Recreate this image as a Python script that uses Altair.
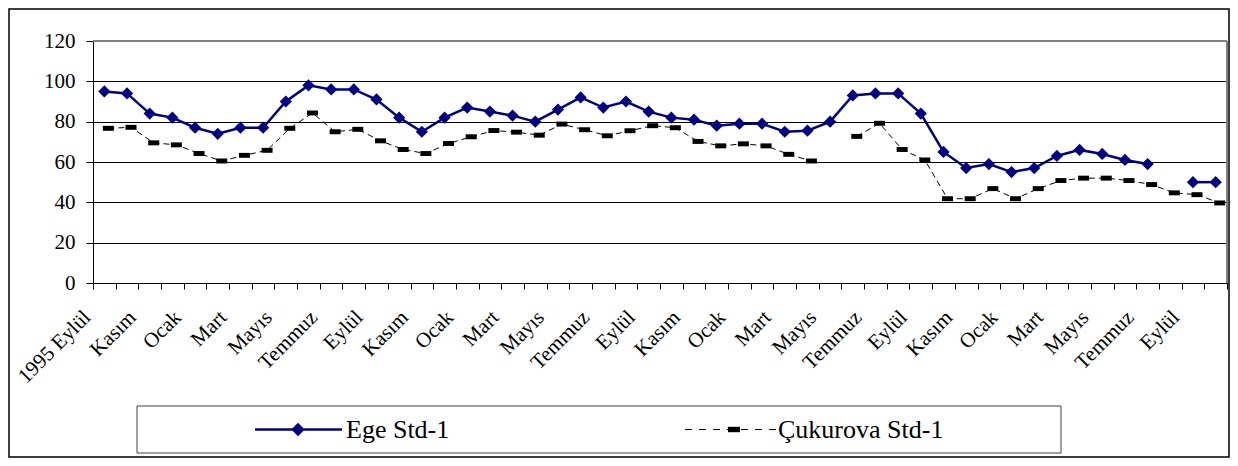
import json
import altair as alt
import pandas as pd

# ---------------- data ----------------
x_labels = ["1995 Eylül", "Kasım", "Ocak", "Mart", "Mayıs", "Temmuz", "Eylül",
            "Kasım", "Ocak", "Mart", "Mayıs", "Temmuz", "Eylül",
            "Kasım", "Ocak", "Mart", "Mayıs", "Temmuz", "Eylül",
            "Kasım", "Ocak", "Mart", "Mayıs", "Temmuz", "Eylül"]
series_names = ["Ege Std-1", "Çukurova Std-1"]

ege = [95, 94, 84, 82, 77, 74, 77, 77, 90, 98,
       96, 96, 91, 82, 75, 82, 87, 85, 83, 80,
       86, 92, 87, 90, 85, 82, 81, 78, 79, 79,
       75, 75.5, 80, 93, 94, 94, 84, 65, 57, 59,
       55, 57, 63, 66, 64, 61, 59, None, 50, 50]

cukurova = [76.7, 77.2, 69.5, 68.5, 64.2, 60.5, 63.3, 65.8, 76.7, 84.3,
            75, 76.2, 70.5, 66.2, 64.2, 69.2, 72.5, 75.6, 74.8, 73.3,
            78.8, 76, 73, 75.5, 78, 77, 70.2, 68, 69, 68,
            63.8, 60.5, None, 72.7, 79.2, 66.2, 61, 41.8, 41.8, 46.8,
            41.8, 46.8, 50.8, 52, 52, 50.8, 48.8, 44.7, 43.8, 39.7]

y_ticks = [0, 20, 40, 60, 80, 100, 120]


def to_frame(vals, name):
    rows, seg = [], 0
    for i, v in enumerate(vals):
        if v is None:
            seg += 1
            continue
        rows.append({"idx": i, "value": v, "series": name, "seg": seg})
    return pd.DataFrame(rows)


df_ege = to_frame(ege, series_names[0])
df_cuk = to_frame(cukurova, series_names[1])
one = pd.DataFrame({"k": [0]})

N = len(ege)
tick_vals = [i - 0.5 for i in range(N + 1)]
FONT = "Liberation Serif"
NAVY = "#000080"

label_expr = (
    "((datum.value + 0.5) % 2 == 0 && datum.value < " + str(N - 1) + ") ? "
    + json.dumps(x_labels, ensure_ascii=False)
    + "[(datum.value + 0.5) / 2] : ''"
)

X = alt.X(
    "idx:Q",
    scale=alt.Scale(domain=[-0.5, N - 0.5], nice=False, zero=False),
    axis=alt.Axis(
        values=tick_vals, labelExpr=label_expr, grid=False, title=None,
        domainColor="black", domainWidth=1, tickColor="black", tickSize=6,
        labelAngle=-45, labelAlign="right", labelBaseline="middle",
        labelPadding=25, labelOffset=-6, labelOverlap=False, labelFlush=False,
        labelBound=False, labelFont=FONT, labelFontSize=21, labelColor="black",
    ),
)
Y = alt.Y(
    "value:Q",
    scale=alt.Scale(domain=[0, 120], nice=False, zero=True),
    axis=alt.Axis(
        values=y_ticks, grid=True, gridColor="black", gridWidth=1, title=None,
        domainColor="black", domainWidth=1, tickColor="black", tickSize=7,
        labelPadding=11, labelFont=FONT, labelFontSize=21, labelColor="black",
    ),
)

# ---------------- data marks ----------------
ege_line = alt.Chart(df_ege).mark_line(color=NAVY, strokeWidth=2.5).encode(
    x=X, y=Y, detail="seg:N")
ege_pts = alt.Chart(df_ege).mark_point(
    shape="diamond", filled=True, size=150, color=NAVY, opacity=1).encode(x=X, y=Y)

RECT_SHAPE = "M-1,-0.45L1,-0.45L1,0.45L-1,0.45Z"
cuk_line = alt.Chart(df_cuk).mark_line(
    color="black", strokeWidth=1, strokeDash=[6, 4], xOffset=4).encode(
    x=X, y=Y, detail="seg:N")
cuk_pts = alt.Chart(df_cuk).mark_point(
    shape=RECT_SHAPE, filled=True, size=121, color="black", opacity=1,
    xOffset=4).encode(x=X, y=Y)

# ---------------- frame decorations ----------------
PW, PH = 1134, 242
top_border = alt.Chart(one).mark_rule(color="#808080", strokeWidth=2).encode(
    x=alt.value(0), x2=alt.value(PW), y=alt.value(0))
right_border = alt.Chart(one).mark_rule(color="#808080", strokeWidth=2).encode(
    x=alt.value(PW), y=alt.value(0), y2=alt.value(PH))
outer = alt.Chart(one).mark_rect(
    filled=False, color="black", strokeWidth=1.5).encode(
    x=alt.value(-84), x2=alt.value(1136), y=alt.value(-32), y2=alt.value(416))

# ---------------- legend ----------------
LY = 388.5
leg_box = alt.Chart(one).mark_rect(
    filled=False, color="#404040", strokeWidth=1).encode(
    x=alt.value(44), x2=alt.value(968), y=alt.value(365), y2=alt.value(412))
leg_ege_line = alt.Chart(one).mark_rule(color=NAVY, strokeWidth=2.5).encode(
    x=alt.value(162), x2=alt.value(249), y=alt.value(LY))
leg_ege_pt = alt.Chart(one).mark_point(
    shape="diamond", filled=True, size=180, color=NAVY, opacity=1).encode(
    x=alt.value(205), y=alt.value(LY))
leg_ege_txt = alt.Chart(one).mark_text(
    align="left", baseline="alphabetic", font=FONT, fontSize=26, color="black").encode(
    x=alt.value(253), y=alt.value(397), text=alt.value(series_names[0]))
leg_cuk_line = alt.Chart(one).mark_rule(
    color="black", strokeWidth=1, strokeDash=[7, 7]).encode(
    x=alt.value(592), x2=alt.value(684), y=alt.value(LY))
leg_cuk_pt = alt.Chart(one).mark_point(
    shape=RECT_SHAPE, filled=True, size=144, color="black", opacity=1).encode(
    x=alt.value(641), y=alt.value(LY))
leg_cuk_txt = alt.Chart(one).mark_text(
    align="left", baseline="alphabetic", font=FONT, fontSize=26, color="black").encode(
    x=alt.value(685), y=alt.value(397), text=alt.value(series_names[1]))

chart = alt.layer(
    outer, ege_line, cuk_line, cuk_pts, ege_pts, top_border, right_border,
    leg_box, leg_ege_line, leg_ege_pt, leg_ege_txt,
    leg_cuk_line, leg_cuk_pt, leg_cuk_txt,
).properties(
    width=PW, height=PH,
    autosize=alt.AutoSizeParams(type="none"),
    padding={"left": 85, "top": 33, "right": 3, "bottom": 175},
    background="white",
).configure_view(stroke=None)

chart.save("out.html", embed_options={"renderer": "svg", "actions": False})
